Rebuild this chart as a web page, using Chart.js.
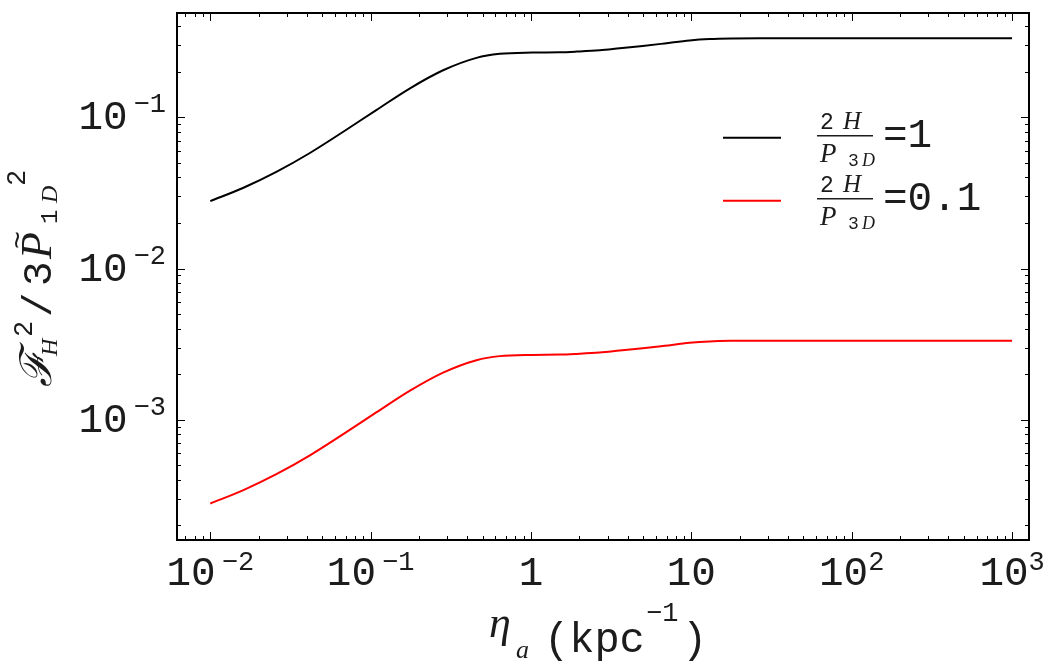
<!DOCTYPE html>
<html><head><meta charset="utf-8">
<script src="https://cdn.jsdelivr.net/npm/chart.js@4/dist/chart.umd.min.js"></script>
<style>html,body{margin:0;padding:0;background:#fff;}canvas{display:block}</style>
</head><body>
<canvas id="c" width="1050" height="666"></canvas>
<script>
// ---- data ----
const etaValues = [0.01, 0.0161, 0.026, 0.0418, 0.0675, 0.109, 0.176, 0.283, 0.457, 0.638, 1.02, 1.51, 1.93, 2.68, 3.57, 4.97, 6.81, 9.75, 13.0, 18.1, 26.6, 100, 1000];
const ratioOneValues = [0.0279, 0.03422, 0.04376, 0.0581, 0.08027, 0.1121, 0.1556, 0.2048, 0.2474, 0.2633, 0.2683, 0.2694, 0.2723, 0.2778, 0.2864, 0.2966, 0.3082, 0.3226, 0.3296, 0.3326, 0.3334, 0.3334, 0.3334];
const ratioTenthValues = [0.000279, 0.0003422, 0.0004376, 0.000581, 0.0008027, 0.001121, 0.001556, 0.002048, 0.002474, 0.002633, 0.002683, 0.002694, 0.002723, 0.002778, 0.002864, 0.002966, 0.003082, 0.003226, 0.003296, 0.003326, 0.003334, 0.003334, 0.003334];
const seriesValueLabels = ["1", "0.1"];
const seriesColors = ["#000000", "#ff0000"];
const xTickValues = [0.01, 0.1, 1, 10, 100, 1000];
const xTickMain = ["10", "10", "1", "10", "10", "10"];
const xTickExp = ["\u22122", "\u22121", "", "", "2", "3"];
const yTickValues = [0.001, 0.01, 0.1];
const yTickMain = ["10", "10", "10"];
const yTickExp = ["\u22123", "\u22122", "\u22121"];
const xRange = [0.0062, 1275];
const yRange = [1.6e-4, 0.49];

const MONO = '"Liberation Mono", "DejaVu Sans Mono", monospace';
const SERIF = '"Liberation Serif", "DejaVu Serif", serif';
const INK = '#1c1c1c';

function drawPow(ctx, main, exp, x, baseline, align, supDrop) {
  ctx.font = '41px ' + MONO;
  const wm = ctx.measureText(main).width;
  ctx.font = '27px ' + MONO;
  const we = exp ? ctx.measureText(exp).width : 0;
  const gap = exp && exp[0] === '\u2212' ? 6 : 0;
  const total = wm + gap + we;
  const start = align === 'center' ? x - total / 2 : x - total;
  ctx.textAlign = 'left';
  ctx.textBaseline = 'alphabetic';
  ctx.font = '41px ' + MONO;
  ctx.fillText(main, start, baseline);
  if (exp) {
    ctx.font = '27px ' + MONO;
    ctx.fillText(exp, start + wm + gap, baseline - supDrop);
  }
}

const decorPlugin = {
  id: 'decor',
  afterDraw(chart) {
    const ctx = chart.ctx;
    const a = chart.chartArea;
    const xs = chart.scales.x, ys = chart.scales.y;
    ctx.save();
    ctx.fillStyle = INK;
    ctx.strokeStyle = '#000';
    // frame
    ctx.lineWidth = 2;
    ctx.strokeRect(a.left, a.top, a.right - a.left, a.bottom - a.top);
    // inward ticks, all four sides
    ctx.lineWidth = 1;
    ctx.beginPath();
    for (let d = -4; d <= 4; d++) {
      for (let m = 1; m <= 9; m++) {
        const v = m * Math.pow(10, d);
        const len = m === 1 ? 8 : 4;
        if (v > xRange[0] && v < xRange[1]) {
          const px = Math.round(xs.getPixelForValue(v)) + 0.5;
          ctx.moveTo(px, a.bottom); ctx.lineTo(px, a.bottom - len);
          ctx.moveTo(px, a.top); ctx.lineTo(px, a.top + len);
        }
        if (v > yRange[0] && v < yRange[1]) {
          const py = Math.round(ys.getPixelForValue(v)) + 0.5;
          ctx.moveTo(a.left, py); ctx.lineTo(a.left + len, py);
          ctx.moveTo(a.right, py); ctx.lineTo(a.right - len, py);
        }
      }
    }
    ctx.stroke();
    // tick labels
    xTickValues.forEach((v, i) => {
      drawPow(ctx, xTickMain[i], xTickExp[i], xs.getPixelForValue(v), 584.5, 'center', 15);
    });
    yTickValues.forEach((v, i) => {
      drawPow(ctx, yTickMain[i], yTickExp[i], 166, ys.getPixelForValue(v) + 12, 'right', 17);
    });
    // x axis title
    ctx.textAlign = 'left'; ctx.textBaseline = 'alphabetic';
    ctx.font = 'italic 44px ' + SERIF; ctx.fillText('\u03b7', 489, 637);
    ctx.font = 'italic 26px ' + SERIF; ctx.fillText('a', 516, 658);
    ctx.font = '42px ' + MONO; ctx.fillText('(kpc', 544, 652);
    ctx.font = '27px ' + MONO; ctx.fillText('\u22121', 646, 621);
    ctx.font = '42px ' + MONO; ctx.fillText(')', 682, 652);
    // y axis title (rotated)
    ctx.save();
    ctx.translate(51, 387);
    ctx.rotate(-Math.PI / 2);
    ctx.font = 'italic 44px ' + SERIF; ctx.fillText('\u2131', 0, 0);
    ctx.font = 'italic 24px ' + SERIF; ctx.fillText('H', 31, 6);
    ctx.font = '27px ' + MONO; ctx.fillText('2', 50, -19);
    ctx.font = '41px ' + MONO; ctx.fillText('/', 70, 0);
    ctx.font = '41px ' + MONO; ctx.fillText('3', 101, 0);
    ctx.font = 'italic 44px ' + SERIF; ctx.fillText('P', 128, 0);
    ctx.font = '30px ' + MONO; ctx.fillText('~', 138, -24);
    ctx.font = '24px ' + MONO; ctx.fillText('1', 163, 6);
    ctx.font = 'italic 24px ' + SERIF; ctx.fillText('D', 184, 6);
    ctx.font = '27px ' + MONO; ctx.fillText('2', 201, -26);
    ctx.restore();
    // legend
    chart.data.datasets.forEach((ds, i) => {
      const ly = 137.7 + 63 * i;
      ctx.strokeStyle = ds.borderColor;
      ctx.lineWidth = 2;
      ctx.beginPath(); ctx.moveTo(723, ly); ctx.lineTo(781, ly); ctx.stroke();
      ctx.fillStyle = INK;
      ctx.font = '23px ' + MONO; ctx.fillText('2', 820, ly - 9);
      ctx.font = 'italic 25px ' + SERIF; ctx.fillText('H', 843, ly - 9);
      ctx.fillRect(817, ly - 2.7, 56, 1.5);
      ctx.font = 'italic 27px ' + SERIF; ctx.fillText('P', 820, ly + 24);
      ctx.font = '18px ' + MONO; ctx.fillText('3', 848, ly + 28);
      ctx.font = 'italic 18px ' + SERIF; ctx.fillText('D', 862, ly + 28);
      ctx.font = '41px ' + MONO; ctx.fillText('=' + seriesValueLabels[i], 883, ly + 9);
    });
    ctx.restore();
  }
};

new Chart(document.getElementById('c').getContext('2d'), {
  type: 'line',
  data: {
    datasets: [
      { label: '2H/P3D = ' + seriesValueLabels[0], data: etaValues.map((x, i) => ({ x: x, y: ratioOneValues[i] })),
        borderColor: seriesColors[0], borderWidth: 2, pointRadius: 0, fill: false, cubicInterpolationMode: 'monotone' },
      { label: '2H/P3D = ' + seriesValueLabels[1], data: etaValues.map((x, i) => ({ x: x, y: ratioTenthValues[i] })),
        borderColor: seriesColors[1], borderWidth: 2, pointRadius: 0, fill: false, cubicInterpolationMode: 'monotone' }
    ]
  },
  options: {
    responsive: false, animation: false, devicePixelRatio: 1,
    layout: { padding: { left: 177, right: 21, top: 13, bottom: 126 } },
    plugins: { legend: { display: false }, tooltip: { enabled: false } },
    scales: {
      x: { type: 'logarithmic', min: xRange[0], max: xRange[1],
           ticks: { display: false }, grid: { display: false }, border: { display: false },
           afterFit(s) { s.height = 0; } },
      y: { type: 'logarithmic', min: yRange[0], max: yRange[1],
           ticks: { display: false }, grid: { display: false }, border: { display: false },
           afterFit(s) { s.width = 0; } }
    }
  },
  plugins: [decorPlugin]
});
</script>
</body></html>
